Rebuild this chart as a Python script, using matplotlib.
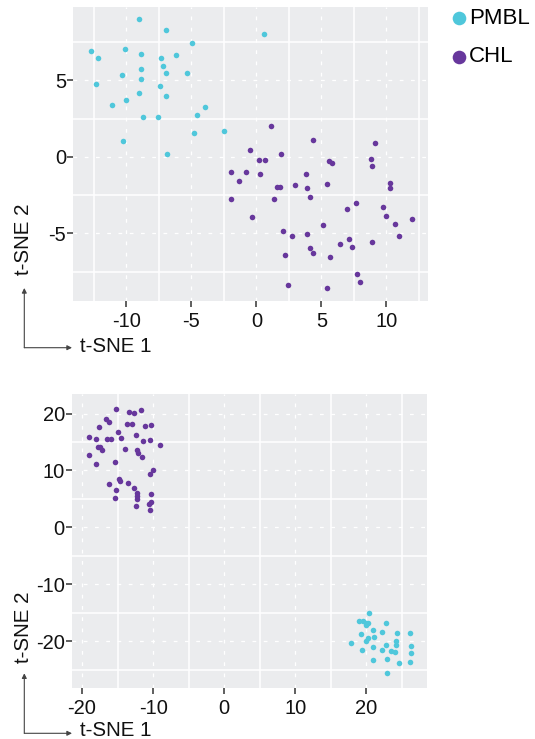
import numpy as np
import matplotlib
matplotlib.use("Agg")
import matplotlib.pyplot as plt
from matplotlib.patches import FancyArrowPatch

plt.rcParams['font.family'] = ['Liberation Sans', 'DejaVu Sans']

PMBL_COLOR = '#4FC7DB'
CHL_COLOR = '#67379C'
PANEL_BG = '#EBECEE'

# top panel (first embedding)
top_pmbl_x = [-9.01, -6.92, 0.62, -4.93, -12.74, -10.08, -12.14, -8.85, -7.33, -6.15,
              -7.18, -8.87, -6.96, -5.37, -10.31, -8.85, -12.35, -7.38, -9.01, -6.92,
              -10.02, -11.09, -3.95, -8.69, -7.54, -4.53, -2.52, -4.77, -10.28, -6.89]
top_pmbl_y = [9.02, 8.30, 8.04, 7.46, 6.91, 7.07, 6.43, 6.70, 6.48, 6.67,
              5.93, 5.72, 5.48, 5.46, 5.35, 5.11, 4.78, 4.65, 4.15, 3.96,
              3.70, 3.37, 3.28, 2.61, 2.61, 2.76, 1.70, 1.54, 1.04, 0.17]
top_chl_x = [1.14, 4.33, 9.12, -0.48, 1.90, 0.20, 0.67, 5.56, 5.85, 8.85,
             8.90, -1.92, -0.77, 0.28, 3.83, -1.32, 2.97, 5.45, 10.29, 10.29,
             1.58, 1.79, 3.86, -1.95, 1.35, 4.14, 7.68, 7.00, 9.72, 9.95,
             -0.32, 11.99, 10.66, 5.11, 2.03, 2.77, 3.86, 11.00, 7.10, 8.88,
             6.45, 7.33, 4.14, 4.33, 2.18, 5.66, 7.73, 7.99, 2.45, 5.43]
top_chl_y = [2.02, 1.13, 0.91, 0.43, 0.20, -0.22, -0.22, -0.26, -0.43, -0.13,
             -0.61, -0.96, -1.00, -1.11, -1.09, -1.59, -1.83, -1.78, -1.72, -2.04,
             -1.98, -1.98, -2.02, -2.72, -2.76, -2.63, -3.04, -3.41, -3.28, -3.85,
             -3.91, -4.07, -4.41, -4.43, -4.87, -5.17, -5.04, -5.15, -5.37, -5.54,
             -5.72, -5.89, -5.96, -6.30, -6.41, -6.52, -7.63, -8.20, -8.35, -8.54]

# bottom panel (second embedding)
bot_chl_x = [-15.28, -13.32, -12.69, -11.64, -16.62, -16.14, -13.65, -12.98, -17.63, -11.16,
             -10.35, -14.90, -19.04, -18.01, -16.43, -15.90, -14.56, -12.35, -11.40, -10.44,
             -9.01, -17.77, -17.44, -17.15, -14.00, -12.22, -12.07, -11.59, -19.04, -15.42,
             -18.01, -10.01, -10.44, -14.83, -14.64, -16.14, -13.51, -12.74, -15.19, -12.22,
             -10.30, -15.42, -12.22, -12.20, -10.30, -10.62, -12.45, -10.40]
bot_chl_y = [20.87, 20.29, 20.17, 20.64, 19.13, 18.60, 18.14, 18.20, 17.62, 17.79,
             17.97, 16.69, 15.87, 15.52, 15.47, 15.47, 15.64, 16.28, 15.23, 15.29,
             14.42, 14.07, 14.19, 13.66, 13.72, 13.55, 13.02, 12.38, 12.67, 11.51,
             11.10, 10.00, 9.30, 8.55, 8.08, 7.56, 7.73, 6.86, 6.63, 5.99,
             5.81, 5.23, 5.06, 5.50, 4.48, 4.19, 3.84, 2.97]
bot_pmbl_x = [20.36, 18.97, 19.59, 20.02, 20.26, 20.02, 22.80, 20.89, 22.23, 24.34,
              26.20, 19.19, 21.05, 20.26, 19.93, 24.24, 24.19, 22.80, 17.89, 20.93,
              26.24, 19.43, 22.27, 23.47, 24.04, 26.24, 20.93, 22.85, 24.67, 26.15,
              22.95]
bot_pmbl_y = [-15.06, -16.40, -16.51, -16.74, -16.74, -17.21, -16.80, -17.97, -18.43, -18.55,
              -18.66, -18.84, -19.24, -19.42, -20.06, -19.94, -20.64, -20.64, -20.35, -20.99,
              -20.87, -21.51, -21.51, -21.80, -21.98, -22.15, -23.31, -23.14, -23.84, -23.60,
              -25.64]

top_xticks = [-10, -5, 0, 5, 10]
top_yticks = [-5, 0, 5]
bot_xticks = [-20, -10, 0, 10, 20]
bot_yticks = [-20, -10, 0, 10, 20]


def style_panel(ax, xticks, yticks, xlim, ylim):
    ax.set_facecolor(PANEL_BG)
    for s in ax.spines.values():
        s.set_visible(False)
    ax.set_xlim(*xlim)
    ax.set_ylim(*ylim)
    ax.set_xticks(xticks)
    ax.set_yticks(yticks)
    ax.set_xticklabels([str(t) for t in xticks])
    ax.set_yticklabels([str(t) for t in yticks])
    ax.tick_params(axis='both', length=4, width=1.1, color='#333333',
                   labelsize=14.5, labelcolor='#111111')
    ax.tick_params(axis='y', pad=1)
    ax.tick_params(axis='x', pad=4)
    # solid lines sit half-way between the ticks, dashed ones on the ticks
    xstep = xticks[1] - xticks[0]
    ystep = yticks[1] - yticks[0]
    xs = np.arange(xticks[0] - 2 * xstep, xticks[-1] + 2 * xstep, xstep) + xstep / 2
    ys = np.arange(yticks[0] - 2 * ystep, yticks[-1] + 2 * ystep, ystep) + ystep / 2
    for v in xs:
        ax.axvline(v, color='white', lw=1.1, zorder=0.5)
    for v in ys:
        ax.axhline(v, color='white', lw=1.1, zorder=0.5)
    for v in xticks:
        ax.axvline(v, color='white', lw=0.9, ls=(0, (3, 6)), zorder=0.5)
    for v in yticks:
        ax.axhline(v, color='white', lw=0.9, ls=(0, (3, 6)), zorder=0.5)


fig = plt.figure(figsize=(5.35, 7.39), dpi=100)
W, H = 535, 739

ax1 = fig.add_axes([73 / W, 1 - 301 / H, 355 / W, 294 / H])
style_panel(ax1, top_xticks, top_yticks, (-14.1, 13.2), (-9.41, 9.78))
h1 = ax1.scatter(top_pmbl_x, top_pmbl_y, s=16, color=PMBL_COLOR, linewidths=0, zorder=3)
h2 = ax1.scatter(top_chl_x, top_chl_y, s=16, color=CHL_COLOR, linewidths=0, zorder=3)

ax2 = fig.add_axes([71.7 / W, 1 - 687.7 / H, 355 / W, 293.4 / H])
style_panel(ax2, bot_xticks, bot_yticks, (-21.45, 28.5), (-28.2, 23.4))
ax2.scatter(bot_chl_x, bot_chl_y, s=16, color=CHL_COLOR, linewidths=0, zorder=3)
ax2.scatter(bot_pmbl_x, bot_pmbl_y, s=16, color=PMBL_COLOR, linewidths=0, zorder=3)

fig.legend([h1, h2], ['PMBL', 'CHL'], loc='upper left',
           bbox_to_anchor=(452 / W, 1 - 8 / H), frameon=False, fontsize=16,
           markerscale=2.45, handlelength=0.6, handletextpad=0.15,
           labelspacing=0.78, borderpad=0, borderaxespad=0)

# arrow-style axis titles
for oy, ty, lab_y in [(347.7, 288, 351.7), (733.3, 673.3, 736.5)]:
    ox = 24.3
    for end in [(72 / W, 1 - oy / H), (ox / W, 1 - ty / H)]:
        fig.add_artist(FancyArrowPatch((ox / W, 1 - oy / H), end,
                                       transform=fig.transFigure,
                                       arrowstyle='-|>', mutation_scale=7,
                                       lw=0.8, color='#444444', shrinkA=0, shrinkB=0))
    fig.text(80 / W, 1 - lab_y / H, 't-SNE 1', fontsize=14.8, ha='left',
             va='baseline', color='#111111')

fig.text(24 / W, 1 - 239 / H, 't-SNE 2', fontsize=14.8, rotation=90,
         ha='center', va='center', color='#111111')
fig.text(24 / W, 1 - 627 / H, 't-SNE 2', fontsize=14.8, rotation=90,
         ha='center', va='center', color='#111111')

fig.savefig('out.png', dpi=100)
